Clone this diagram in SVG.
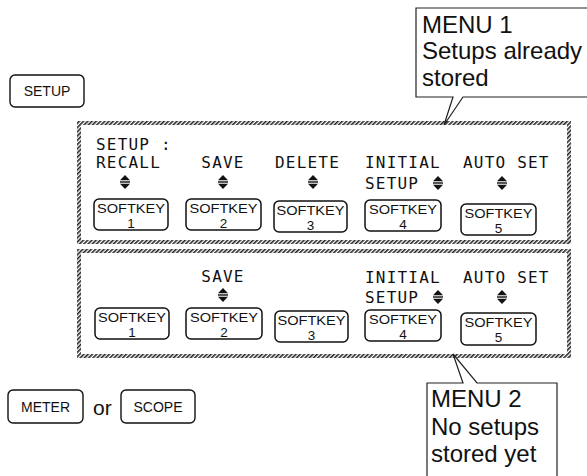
<svg xmlns="http://www.w3.org/2000/svg" width="587" height="476" viewBox="0 0 587 476">
<style>
.key{fill:#fff;stroke:#111;stroke-width:1.4}
.sk{fill:#fff;stroke:#111;stroke-width:1.5}
.kt{font-family:"Liberation Sans",Arial,sans-serif;font-size:14px;fill:#111;text-anchor:middle}
.skt{font-family:"Liberation Sans",Arial,sans-serif;font-size:13.5px;fill:#111;text-anchor:middle}
.lcd{font-family:"DejaVu Sans Mono","Liberation Mono",monospace;font-size:16px;fill:#111;letter-spacing:1.2px}
.panel{fill:#fff;stroke:url(#hatch);stroke-width:4}
.call{fill:#fff;stroke:#222;stroke-width:1.2;stroke-linejoin:miter}
.ct{font-family:"Liberation Sans",Arial,sans-serif;font-size:24px;fill:#111}
</style>
<defs>
<pattern id="hatch" width="3" height="3" patternUnits="userSpaceOnUse" patternTransform="rotate(45)">
<rect width="3" height="3" fill="#fff"/>
<rect width="1.6" height="3" fill="#222"/>
</pattern>
<g id="ud">
<polygon points="-5,-1.8 5,-1.8 0,-7" fill="#111"/>
<rect x="-5" y="-0.7" width="10" height="1.4" fill="#111"/>
<polygon points="-5,1.8 5,1.8 0,7" fill="#111"/>
</g>
</defs>
<rect width="587" height="476" fill="#fff"/>

<g id="key-setup">
<rect class="key" x="10" y="75" width="74" height="32" rx="5"/>
<text class="kt" x="47" y="96">SETUP</text>
</g>

<g id="menu1">
<rect class="panel" x="79" y="123" width="490" height="119"/>
<text class="lcd" x="96" y="150">SETUP :</text>
<text class="lcd" x="96" y="168">RECALL</text>
<text class="lcd" x="223" y="168" text-anchor="middle">SAVE</text>
<text class="lcd" x="275" y="168">DELETE</text>
<text class="lcd" x="365" y="168">INITIAL</text>
<text class="lcd" x="365" y="189">SETUP</text>
<text class="lcd" x="463" y="168">AUTO SET</text>
<use href="#ud" x="125" y="182"/>
<use href="#ud" x="223" y="182"/>
<use href="#ud" x="313" y="182"/>
<use href="#ud" x="438" y="183"/>
<use href="#ud" x="502" y="183"/>
<g id="m1-sk1"><rect class="sk" x="94" y="199" width="74" height="31" rx="5"/><text class="skt" x="131" y="213" textLength="68" lengthAdjust="spacingAndGlyphs">SOFTKEY</text><text class="skt" x="131" y="228">1</text></g>
<g id="m1-sk2"><rect class="sk" x="186" y="199" width="75" height="31" rx="5"/><text class="skt" x="223.5" y="213" textLength="68" lengthAdjust="spacingAndGlyphs">SOFTKEY</text><text class="skt" x="223.5" y="228">2</text></g>
<g id="m1-sk3"><rect class="sk" x="274" y="201" width="73" height="31" rx="5"/><text class="skt" x="310.5" y="215" textLength="68" lengthAdjust="spacingAndGlyphs">SOFTKEY</text><text class="skt" x="310.5" y="230">3</text></g>
<g id="m1-sk4"><rect class="sk" x="365" y="200" width="76" height="31" rx="5"/><text class="skt" x="403" y="214" textLength="68" lengthAdjust="spacingAndGlyphs">SOFTKEY</text><text class="skt" x="403" y="229">4</text></g>
<g id="m1-sk5"><rect class="sk" x="461" y="204" width="75" height="31" rx="5"/><text class="skt" x="498.5" y="218" textLength="68" lengthAdjust="spacingAndGlyphs">SOFTKEY</text><text class="skt" x="498.5" y="233">5</text></g>
</g>

<g id="menu2">
<rect class="panel" x="79" y="251" width="490" height="105"/>
<text class="lcd" x="223" y="282" text-anchor="middle">SAVE</text>
<text class="lcd" x="365" y="283">INITIAL</text>
<text class="lcd" x="365" y="303">SETUP</text>
<text class="lcd" x="463" y="283">AUTO SET</text>
<use href="#ud" x="223" y="295"/>
<use href="#ud" x="438" y="297"/>
<use href="#ud" x="502" y="297"/>
<g id="m2-sk1"><rect class="sk" x="95" y="308" width="74" height="31" rx="5"/><text class="skt" x="132" y="322" textLength="68" lengthAdjust="spacingAndGlyphs">SOFTKEY</text><text class="skt" x="132" y="337">1</text></g>
<g id="m2-sk2"><rect class="sk" x="186" y="308" width="76" height="31" rx="5"/><text class="skt" x="224" y="322" textLength="68" lengthAdjust="spacingAndGlyphs">SOFTKEY</text><text class="skt" x="224" y="337">2</text></g>
<g id="m2-sk3"><rect class="sk" x="275" y="311" width="73" height="31" rx="5"/><text class="skt" x="311.5" y="325" textLength="68" lengthAdjust="spacingAndGlyphs">SOFTKEY</text><text class="skt" x="311.5" y="340">3</text></g>
<g id="m2-sk4"><rect class="sk" x="365" y="310" width="76" height="31" rx="5"/><text class="skt" x="403" y="324" textLength="68" lengthAdjust="spacingAndGlyphs">SOFTKEY</text><text class="skt" x="403" y="339">4</text></g>
<g id="m2-sk5"><rect class="sk" x="461" y="313" width="75" height="32" rx="5"/><text class="skt" x="498.5" y="327" textLength="68" lengthAdjust="spacingAndGlyphs">SOFTKEY</text><text class="skt" x="498.5" y="342">5</text></g>
</g>

<g id="key-meter">
<rect class="key" x="8" y="390" width="75" height="33" rx="5"/>
<text class="kt" x="45.5" y="412">METER</text>
</g>
<g id="or-label">
<text class="ct" x="93" y="415" style="font-size:21px">or</text>
</g>
<g id="key-scope">
<rect class="key" x="121" y="390" width="74" height="33" rx="5"/>
<text class="kt" x="158" y="412">SCOPE</text>
</g>

<g id="callout-menu1">
<path class="call" d="M600,8 H416 V97 H453 L444,125 L463,97 H600"/>
<text class="ct" x="422" y="33">MENU 1</text>
<text class="ct" x="422" y="59">Setups already</text>
<text class="ct" x="422" y="86">stored</text>
</g>

<g id="callout-menu2">
<path class="call" d="M427,480 V383 H463 L453,354 L477,383 H557 V480"/>
<text class="ct" x="431" y="407">MENU 2</text>
<text class="ct" x="431" y="435">No setups</text>
<text class="ct" x="431" y="462">stored yet</text>
</g>

<g id="connectors"></g>
</svg>
